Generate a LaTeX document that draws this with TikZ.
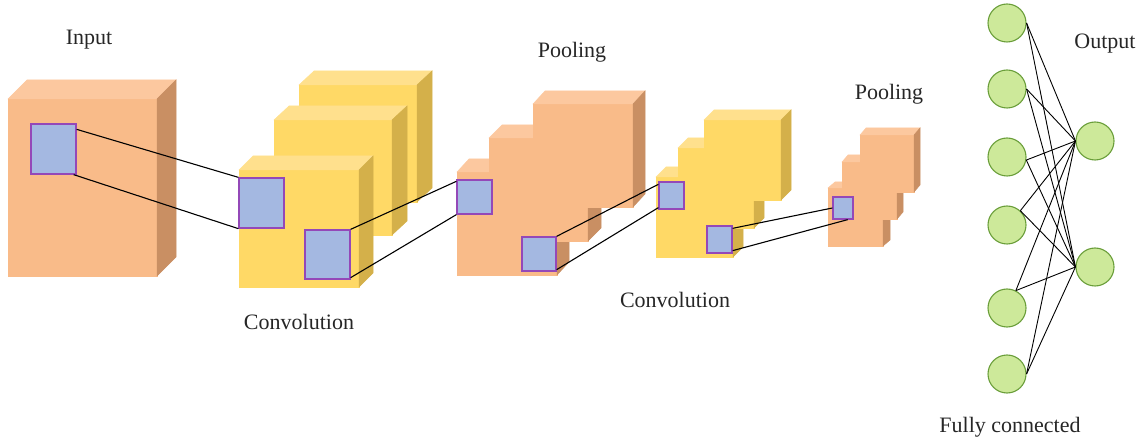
\documentclass[tikz,border=0pt]{standalone}
\usepackage{fontspec}
\setmainfont{Liberation Serif}
\definecolor{orF}{HTML}{F9BB89}
\definecolor{orT}{HTML}{FCC89F}
\definecolor{orS}{HTML}{C98F63}
\definecolor{yeF}{HTML}{FFD966}
\definecolor{yeT}{HTML}{FFE08D}
\definecolor{yeS}{HTML}{D4B04A}
\definecolor{sqF}{HTML}{A4B8E1}
\definecolor{sqD}{HTML}{9448B8}
\definecolor{ciF}{HTML}{CDE99A}
\definecolor{ciD}{HTML}{6A9E3A}
\tikzset{
  orfront/.style={fill=orF,draw=orF,line width=0.5pt},
  ortop/.style={fill=orT,draw=orT,line width=0.5pt},
  orside/.style={fill=orS,draw=orS,line width=0.5pt},
  yefront/.style={fill=yeF,draw=yeF,line width=0.5pt},
  yetop/.style={fill=yeT,draw=yeT,line width=0.5pt},
  yeside/.style={fill=yeS,draw=yeS,line width=0.5pt},
  sq/.style={rectangle,fill=sqF,draw=sqD,line width=1.3pt,inner sep=0pt},
  link/.style={draw=black,line width=1.1pt},
  neuron/.style={circle,fill=ciF,draw=ciD,line width=1.1pt,minimum size=38pt,inner sep=0pt},
  fc/.style={draw=black,line width=0.9pt},
  lab/.style={font=\fontsize{22}{26}\selectfont,inner sep=0pt,text=black!85}
}
\newcommand\drawcube[7]{%
  \path[#7front] (#1,#2) rectangle (#3,#4);
  \path[#7top] (#1,#2) -- (#1+#5,#2-#6) -- (#3+#5,#2-#6) -- (#3,#2) -- cycle;
  \path[#7side] (#3,#2) -- (#3+#5,#2-#6) -- (#3+#5,#4-#6) -- (#3,#4) -- cycle;
}
\begin{document}
\begin{tikzpicture}[x=1pt,y=-1pt]
\useasboundingbox (0,0) rectangle (1143,443);
% input
\drawcube{8}{99}{157}{276}{19}{19}{or}
% conv1 (lower-left cube in front)
\drawcube{299}{85}{417}{202}{15}{14}{ye}
\drawcube{274}{120}{392}{235}{15}{14}{ye}
\drawcube{239}{170}{359}{287}{14}{14}{ye}
% pool1 (upper-right cube in front)
\drawcube{457}{172}{557}{275}{12}{13}{or}
\drawcube{489}{138}{588}{241}{13}{13}{or}
\drawcube{533}{104}{633}{207}{12}{13}{or}
% conv2
\drawcube{656}{177}{733}{257}{10}{10}{ye}
\drawcube{678}{148}{754}{228}{10}{10}{ye}
\drawcube{704}{120}{781}{200}{10}{10}{ye}
% pool2
\drawcube{828}{188}{883}{246}{7}{6}{or}
\drawcube{842}{162}{897}{219}{6}{7}{or}
\drawcube{860}{135}{914}{192}{6}{7}{or}
% squares
\node[sq,minimum width=45pt,minimum height=50pt] (s1) at (53.5,149) {};
\node[sq,minimum width=45pt,minimum height=50pt] (s2) at (261.5,203) {};
\node[sq,minimum width=45pt,minimum height=49pt] (s3) at (327.5,254.5) {};
\node[sq,minimum width=35pt,minimum height=34pt] (s4) at (474.5,197) {};
\node[sq,minimum width=34pt,minimum height=34pt] (s5) at (539,254) {};
\node[sq,minimum width=25pt,minimum height=27pt] (s6) at (671.5,195.5) {};
\node[sq,minimum width=25pt,minimum height=27pt] (s7) at (719.5,239.5) {};
\node[sq,minimum width=20pt,minimum height=22pt] (s8) at (843,208) {};
% links
\draw[link] ([yshift=-6pt]s1.north east) -- (s2.north west);
\draw[link] ([xshift=-3pt]s1.south east) -- (s2.south west);
\draw[link] (s3.north east) -- ([yshift=-2pt]s4.north west);
\draw[link] ([yshift=2pt]s3.south east) -- (s4.south west);
\draw[link] (s5.north east) -- ([yshift=-3pt]s6.north west);
\draw[link] ([yshift=2pt]s5.south east) -- ([yshift=2pt]s6.south west);
\draw[link] ([yshift=-3pt]s7.north east) -- (s8.west);
\draw[link] ([yshift=3pt]s7.south east) -- ([xshift=-6pt]s8.south east);
% fully connected
\node[neuron] (n1) at (1007,23) {};
\node[neuron] (n2) at (1007,89) {};
\node[neuron] (n3) at (1007,157) {};
\node[neuron] (n4) at (1007,225) {};
\node[neuron] (n5) at (1007,308) {};
\node[neuron] (n6) at (1007,374) {};
\node[neuron] (o1) at (1095,141) {};
\node[neuron] (o2) at (1095,267) {};
\foreach \a/\ang in {n1/0,n2/0,n3/-9,n4/47,n5/63,n6/0}{
  \draw[fc] (\a.\ang) -- (o1.west);
  \draw[fc] (\a.\ang) -- (o2.west);
}
% labels
\node[lab] (t1) at (89,40) {Input};
\node[lab] (t2) at (299,322) {Convolution};
\node[lab] (t3) at (572,52) {Pooling};
\node[lab] (t4) at (675,300) {Convolution};
\node[lab] (t5) at (889,94) {Pooling};
\node[lab] (t6) at (1105,44) {Output};
\node[lab] (t7) at (1010,427) {Fully connected};
\end{tikzpicture}
\end{document}
